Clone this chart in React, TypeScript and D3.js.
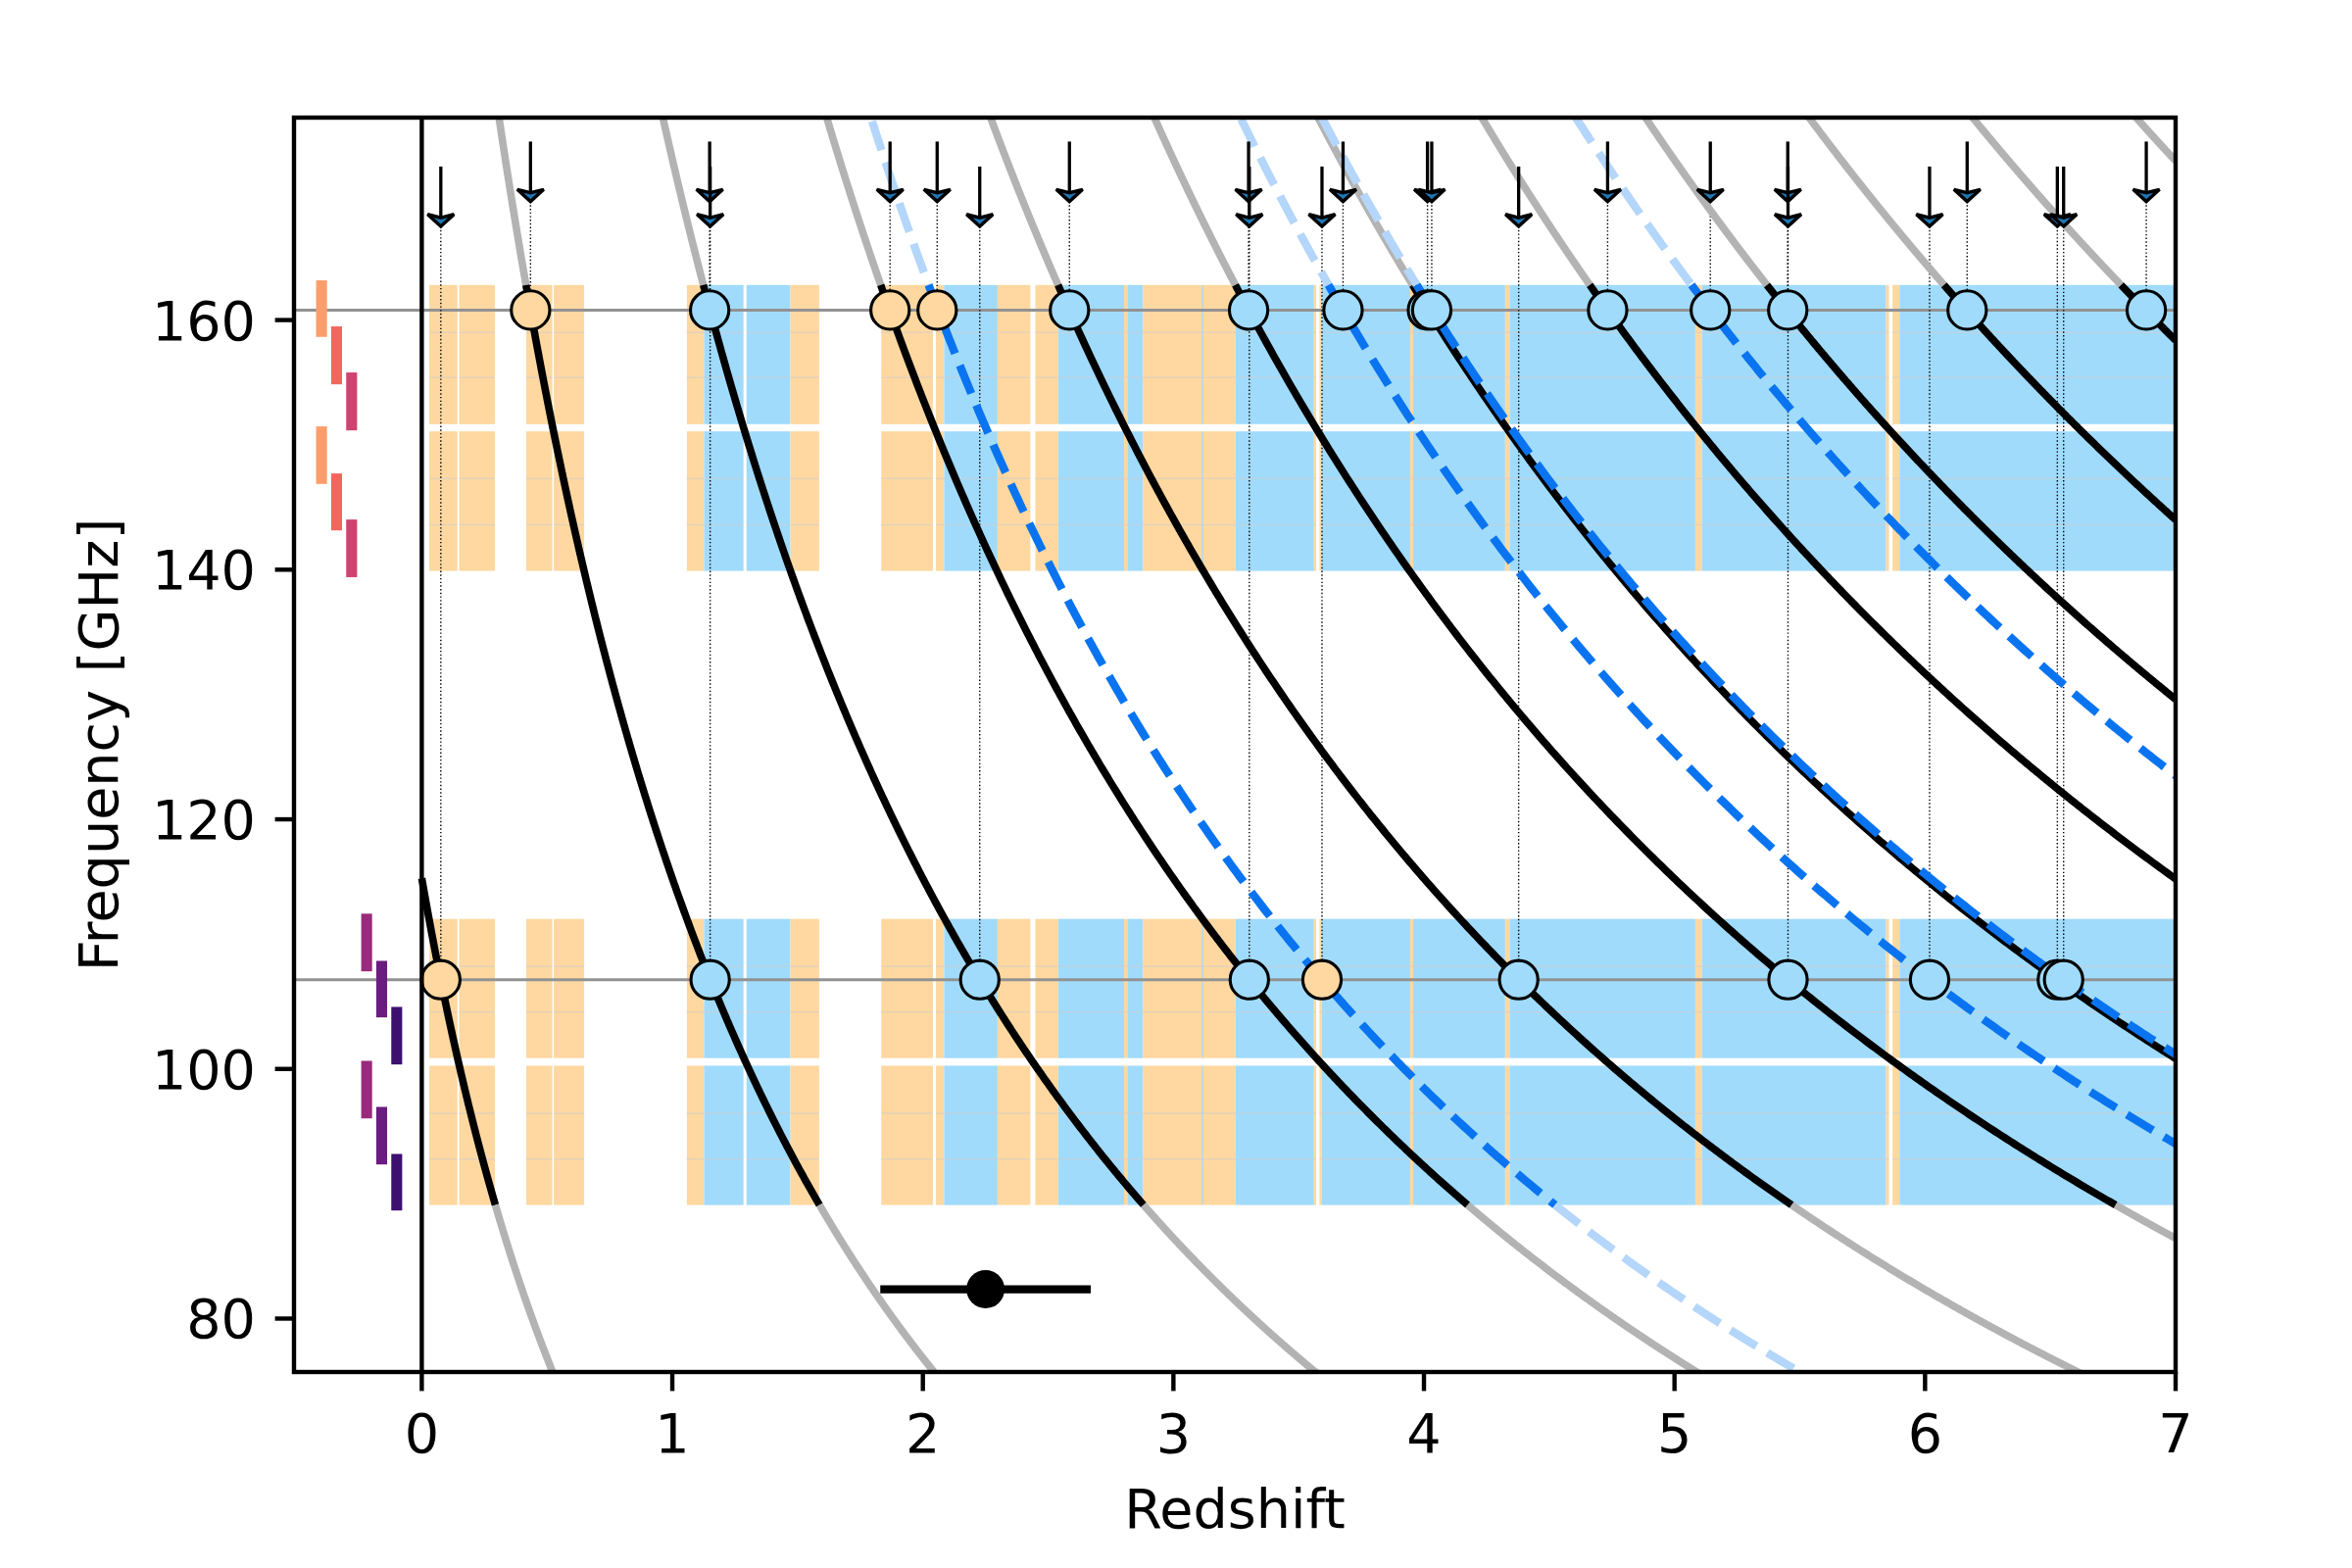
import React from 'react';
import * as d3 from 'd3';

// ---------------- data ----------------
const X_DOMAIN: [number, number] = [-0.51, 7];
const Y_DOMAIN: [number, number] = [75.72, 176.22];
const X_TICKS = [0, 1, 2, 3, 4, 5, 6, 7];
const Y_TICKS = [80, 100, 120, 140, 160];

// observed line frequencies (GHz)
const OBS_HIGH = 160.8;
const OBS_LOW = 107.15;

// frequency coverage of the scan (GHz)
const BAND_SEGMENTS: [number, number][] = [
  [89.1, 100.26],
  [100.87, 112.02],
  [139.9, 151.08],
  [151.66, 162.81],
];
const COVER_MIN = 89.1;
const COVER_MAX = 162.81;
const BAND_DIVIDERS = [92.78, 96.44, 104.56, 108.22, 143.6, 147.3, 155.4, 159.0];

// redshift intervals: [z0, z1, kind] kind 1 = one line (orange), 2 = two lines (blue)
const Z_STRIPS: [number, number, number][] = [
  [0.030, 0.142, 1], [0.149, 0.292, 1], [0.417, 0.521, 1], [0.527, 0.648, 1],
  [1.058, 1.127, 1], [1.127, 1.284, 2], [1.296, 1.471, 2], [1.471, 1.586, 1],
  [1.834, 2.040, 1], [2.052, 2.085, 1], [2.085, 2.298, 2], [2.298, 2.429, 1],
  [2.449, 2.540, 1], [2.540, 2.803, 2], [2.803, 2.816, 1], [2.816, 2.878, 2],
  [2.878, 3.117, 1], [3.117, 3.249, 1], [3.249, 3.561, 2], [3.561, 3.570, 1],
  [3.583, 3.592, 1], [3.592, 3.945, 2], [3.945, 3.957, 1], [3.957, 4.324, 2],
  [4.324, 4.342, 1], [4.342, 5.083, 2], [5.083, 5.109, 1], [5.109, 5.844, 2],
  [5.844, 5.856, 1], [5.870, 5.898, 1], [5.898, 7.0, 2],
];
const Z_DIVIDERS = [3.117];

// rest frequencies (GHz)
const CO_LINES = [115.271, 230.538, 345.796, 461.041, 576.268, 691.473, 806.652,
  921.8, 1036.912, 1151.985, 1267.014, 1381.995];
const OTHER_LINES = [492.161, 752.033, 809.342, 987.927];

// redshift solutions for each observed line
const MATCH_Z_HIGH = [0.434, 1.149, 1.869, 2.057, 2.585, 3.300, 3.677, 4.014, 4.031,
  4.733, 5.143, 5.452, 6.168, 6.883];
const MATCH_KIND_HIGH = [1, 2, 1, 1, 2, 2, 2, 2, 2, 2, 2, 2, 2, 2];
const MATCH_Z_LOW = [0.076, 1.151, 2.227, 3.303, 3.593, 4.378, 5.453, 6.018, 6.528, 6.553];
const MATCH_KIND_LOW = [1, 2, 2, 2, 1, 2, 2, 2, 2, 2];

// arrow extents (GHz): [start, tip]
const ARROW_HIGH: [number, number] = [174.3, 169.5];
const ARROW_LOW: [number, number] = [172.3, 167.5];

// photometric redshift
const ZPHOT = 2.25;
const ZPHOT_LO = 1.83;
const ZPHOT_HI = 2.67;
const ZPHOT_Y = 82.35;

// tunings (left panel)
const TUNING_Z = [-0.40, -0.34, -0.28, -0.22, -0.16, -0.10];
const TUNING_LSB: [number, number][] = [
  [146.87, 151.48], [143.15, 147.71], [139.40, 144.02],
  [96.04, 100.65], [92.35, 96.96], [88.66, 93.19],
];
const TUNING_USB: [number, number][] = [
  [158.65, 163.18], [154.85, 159.49], [151.16, 155.80],
  [107.82, 112.44], [104.13, 108.66], [100.36, 104.97],
];
const TUNING_COLORS = ['#FC9E6B', '#F2665D', '#D0426F', '#9A2A7B', '#6A1C80', '#3D0F6F'];

// ---------------- styles ----------------
const W = 2400;
const H = 1600;
const L = 300, R = 2220, T = 120, B = 1400;
const FONT = '"DejaVu Sans", Verdana, sans-serif';
const FS = 55.6;
const ORANGE = '#FED8A0';
const BLUE = '#A0DBFC';
const DARKBLUE = '#0A74F0';
const LIGHTBLUE = '#B4D6FA';
const GREY = '#B3B3B3';

export default function App() {
  const x = d3.scaleLinear().domain(X_DOMAIN).range([L, R]);
  const y = d3.scaleLinear().domain(Y_DOMAIN).range([B, T]);
  const line = d3.line<[number, number]>().x(d => d[0]).y(d => d[1]);

  const curvePath = (nu: number, z0: number, z1: number) => {
    const n = 300;
    const pts: [number, number][] = d3.range(n + 1).map(i => {
      const z = z0 + ((z1 - z0) * i) / n;
      return [x(z), y(nu / (1 + z))];
    });
    return line(pts) || '';
  };

  const pieces = (nu: number) => {
    const zVis0 = Math.max(0, nu / (Y_DOMAIN[1] + 3) - 1);
    const zVis1 = Math.min(7, nu / (Y_DOMAIN[0] - 3) - 1);
    const zTop = nu / COVER_MAX - 1;
    const zBot = nu / COVER_MIN - 1;
    const out: { z0: number; z1: number; inside: boolean }[] = [];
    const add = (a: number, b: number, inside: boolean) => {
      const a2 = Math.max(a, zVis0);
      const b2 = Math.min(b, zVis1);
      if (b2 > a2) out.push({ z0: a2, z1: b2, inside });
    };
    add(0, zTop, false);
    add(zTop, zBot, true);
    add(zBot, 7, false);
    return out;
  };

  const arrowHead = (cx: number, tipY: number) => {
    const hw = 13.5, hl = 12.3;
    return `M${cx - hw},${tipY - hl} L${cx},${tipY} L${cx + hw},${tipY - hl} L${cx},${tipY - hl * 0.72} Z`;
  };

  const drawDots = (zs: number[], ext: [number, number], obs: number, key: string) =>
    zs.map((z, i) => (
      <line key={`${key}${i}`} x1={x(z)} x2={x(z)} y1={y(ext[1])} y2={y(obs)} stroke="#000"
        strokeWidth={1.4} strokeDasharray="1.4,2.3" />
    ));

  const drawArrowHeads = (zs: number[], ext: [number, number], key: string) =>
    zs.map((z, i) => (
      <g key={`${key}${i}`}>
        <line x1={x(z)} x2={x(z)} y1={y(ext[0])} y2={y(ext[1]) - 5} stroke="#000" strokeWidth={3.3} />
        <path d={arrowHead(x(z), y(ext[1]))} fill="#1f77b4" stroke="#000" strokeWidth={3.4}
          strokeLinejoin="miter" />
      </g>
    ));

  return (
    <div style={{ position: 'absolute', left: 0, top: 0, width: W, height: H, background: '#fff' }}>
      <svg width={W} height={H} viewBox={`0 0 ${W} ${H}`} xmlns="http://www.w3.org/2000/svg">
        <defs>
          <clipPath id="axclip">
            <rect x={L} y={T} width={R - L} height={B - T} />
          </clipPath>
        </defs>
        <rect x={0} y={0} width={W} height={H} fill="#fff" />

        <g clipPath="url(#axclip)">
          {/* strips */}
          {BAND_SEGMENTS.map((seg, si) =>
            Z_STRIPS.map((s, i) => (
              <rect key={`s${si}-${i}`} x={x(s[0])} width={x(s[1]) - x(s[0])}
                y={y(seg[1])} height={y(seg[0]) - y(seg[1])}
                fill={s[2] === 1 ? ORANGE : BLUE} />
            ))
          )}
          {/* faint sub-tuning dividers */}
          {BAND_DIVIDERS.map((f, fi) =>
            Z_STRIPS.map((s, i) => (
              <line key={`d${fi}-${i}`} x1={x(s[0])} x2={x(s[1])} y1={y(f)} y2={y(f)}
                stroke="rgba(205,205,205,0.55)" strokeWidth={1.5} />
            ))
          )}
          {BAND_SEGMENTS.map((seg, si) =>
            Z_DIVIDERS.map((z, i) => (
              <line key={`zd${si}-${i}`} x1={x(z)} x2={x(z)} y1={y(seg[1])} y2={y(seg[0])}
                stroke="rgba(160,215,245,0.8)" strokeWidth={1.5} />
            ))
          )}

          {/* observed line frequencies */}
          {[OBS_HIGH, OBS_LOW].map((f, i) => (
            <line key={`o${i}`} x1={L} x2={R} y1={y(f)} y2={y(f)} stroke="#929292" strokeWidth={3} />
          ))}

          {/* dotted connectors */}
          {drawDots(MATCH_Z_HIGH, ARROW_HIGH, OBS_HIGH, 'dh')}
          {drawDots(MATCH_Z_LOW, ARROW_LOW, OBS_LOW, 'dl')}

          {/* CO lines */}
          {CO_LINES.map((nu, i) =>
            pieces(nu).map((p, j) => (
              <path key={`co${i}-${j}`} d={curvePath(nu, p.z0, p.z1)} fill="none"
                stroke={p.inside ? '#000' : GREY} strokeWidth={7.6} />
            ))
          )}
          {/* other lines */}
          {OTHER_LINES.map((nu, i) =>
            pieces(nu).map((p, j) => (
              <path key={`ot${i}-${j}`} d={curvePath(nu, p.z0, p.z1)} fill="none"
                stroke={p.inside ? DARKBLUE : LIGHTBLUE} strokeWidth={8.3}
                strokeDasharray="31,13" />
            ))
          )}

          {/* match circles */}
          {MATCH_Z_HIGH.map((z, i) => (
            <circle key={`ch${i}`} cx={x(z)} cy={y(OBS_HIGH)} r={19.6}
              fill={MATCH_KIND_HIGH[i] === 1 ? ORANGE : BLUE} stroke="#000" strokeWidth={3.1} />
          ))}
          {MATCH_Z_LOW.map((z, i) => (
            <circle key={`cl${i}`} cx={x(z)} cy={y(OBS_LOW)} r={19.6}
              fill={MATCH_KIND_LOW[i] === 1 ? ORANGE : BLUE} stroke="#000" strokeWidth={3.1} />
          ))}

          {/* arrows */}
          {drawArrowHeads(MATCH_Z_HIGH, ARROW_HIGH, 'ah')}
          {drawArrowHeads(MATCH_Z_LOW, ARROW_LOW, 'al')}

          {/* tunings */}
          {TUNING_Z.map((z, i) => (
            <g key={`t${i}`}>
              {[TUNING_LSB[i], TUNING_USB[i]].map((r, k) => (
                <rect key={k} x={x(z) - 5.55} width={11.1} y={y(r[1])} height={y(r[0]) - y(r[1])}
                  fill={TUNING_COLORS[i]} />
              ))}
            </g>
          ))}

          {/* photometric redshift */}
          <line x1={x(ZPHOT_LO)} x2={x(ZPHOT_HI)} y1={y(ZPHOT_Y)} y2={y(ZPHOT_Y)} stroke="#000"
            strokeWidth={8.3} />
          <circle cx={x(ZPHOT)} cy={y(ZPHOT_Y)} r={19.5} fill="#000" />
        </g>

        {/* z = 0 divider */}
        <line x1={x(0)} x2={x(0)} y1={T} y2={B} stroke="#000" strokeWidth={4.4} />

        {/* spines */}
        <rect x={L} y={T} width={R - L} height={B - T} fill="none" stroke="#000" strokeWidth={4.4} />

        {/* x ticks */}
        {X_TICKS.map(t => (
          <g key={`xt${t}`}>
            <line x1={x(t)} x2={x(t)} y1={B} y2={B + 19.4} stroke="#000" strokeWidth={4.4} />
            <text x={x(t)} y={1481.5} textAnchor="middle" fontFamily={FONT} fontSize={FS} fill="#000">
              {t}
            </text>
          </g>
        ))}
        {/* y ticks */}
        {Y_TICKS.map(t => (
          <g key={`yt${t}`}>
            <line x1={L - 19.4} x2={L} y1={y(t)} y2={y(t)} stroke="#000" strokeWidth={4.4} />
            <text x={261} y={y(t) + 20} textAnchor="end" fontFamily={FONT} fontSize={FS} fill="#000">
              {t}
            </text>
          </g>
        ))}

        <text x={(L + R) / 2} y={1559} textAnchor="middle" fontFamily={FONT} fontSize={FS} fill="#000">
          Redshift
        </text>
        <text transform={`translate(119.5,${(T + B) / 2}) rotate(-90)`} textAnchor="middle"
          fontFamily={FONT} fontSize={FS} fill="#000">
          Frequency [GHz]
        </text>
      </svg>
    </div>
  );
}
